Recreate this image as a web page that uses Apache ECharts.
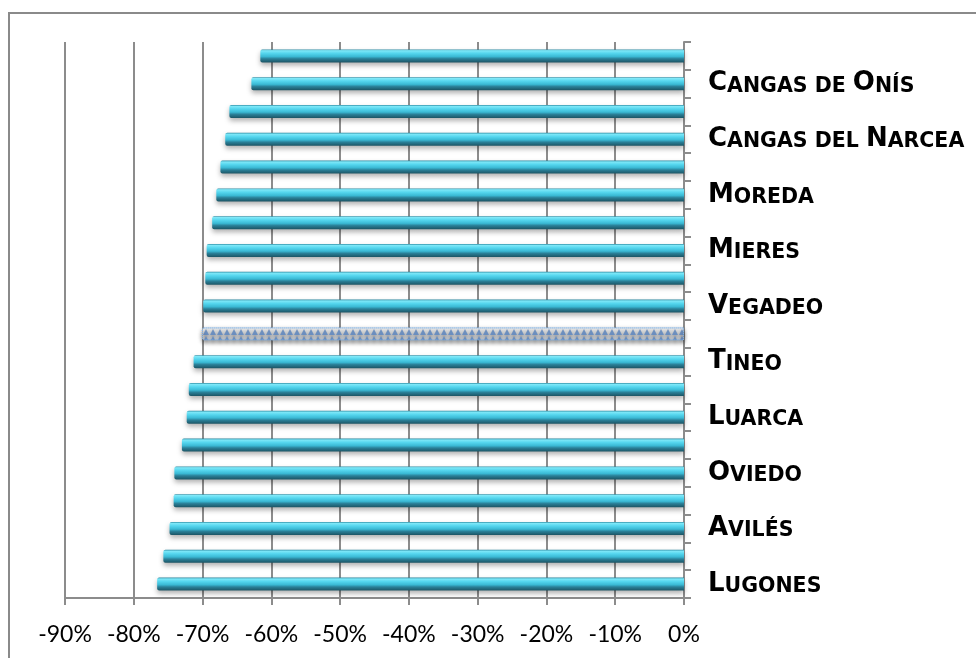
<!DOCTYPE html>
<html><head><meta charset="utf-8">
<script src="https://cdn.jsdelivr.net/npm/echarts@6/dist/echarts.min.js"></script>
<style>html,body{margin:0;padding:0;background:#fff}#c{width:976px;height:658px}</style>
</head><body><div id="c"></div>
<script>
// categories from bottom to top; unlabeled bars in the original have no visible name
const categories = ['Lugones','','Avilés','','Oviedo','','Luarca','','Tineo','','Vegadeo','','Mieres','','Moreda','','Cangas del Narcea','','Cangas de Onís',''];
const values = [-76.6,-75.7,-74.8,-74.2,-74.1,-73.0,-72.3,-72.0,-71.3,-70.1,-69.9,-69.6,-69.4,-68.6,-68.0,-67.4,-66.7,-66.1,-62.9,-61.6];
const highlightIndex = 9;
const xMin = -90, xMax = 0, xStep = 10;

const gridColor = '#8c8c8c';
const barGradient = new echarts.graphic.LinearGradient(0, 0, 0, 1, [
  {offset: 0, color: '#2a88a0'},
  {offset: 0.1, color: '#7fe8f8'},
  {offset: 0.3, color: '#55d6ee'},
  {offset: 0.55, color: '#3ab9d4'},
  {offset: 0.72, color: '#2a8098'},
  {offset: 1, color: '#1c5464'}
]);
const hiGradient = new echarts.graphic.LinearGradient(0, 0, 0, 1, [
  {offset: 0, color: '#ffffff'},
  {offset: 0.6, color: '#f6f9fd'},
  {offset: 1, color: '#e2e9f3'}
]);

function smallCaps(name) {
  if (!name) return '';
  let out = '', cur = '', curType = null;
  for (const ch of name) {
    const t = (ch !== ' ' && ch === ch.toUpperCase() && ch !== ch.toLowerCase()) ? 'b' : 's';
    if (t !== curType && cur) { out += '{' + curType + '|' + cur + '}'; cur = ''; }
    curType = t;
    cur += ch.toUpperCase();
  }
  if (cur) out += '{' + curType + '|' + cur + '}';
  return out;
}

const chart = echarts.init(document.getElementById('c'), null, {renderer: 'canvas'});
chart.setOption({
  animation: false,
  backgroundColor: '#ffffff',
  graphic: [{
    type: 'rect', z: -10, silent: true,
    shape: {x: 9, y: 13, width: 1000, height: 700},
    style: {fill: 'none', stroke: '#8a8a8a', lineWidth: 2}
  }],
  grid: {left: 65, right: 292, top: 42, bottom: 60, containLabel: false},
  xAxis: {
    type: 'value', min: xMin, max: xMax, interval: xStep,
    axisLine: {show: true, lineStyle: {color: gridColor, width: 2}},
    axisTick: {show: true, length: 7, lineStyle: {color: gridColor, width: 2}},
    splitLine: {show: true, lineStyle: {color: gridColor, width: 2}},
    axisLabel: {
      margin: 25, color: '#000', fontFamily: 'Lato', fontSize: 23,
      formatter: v => v + '%'
    }
  },
  yAxis: {
    type: 'category', position: 'right', data: categories,
    axisLine: {show: true, onZero: false, lineStyle: {color: gridColor, width: 2}},
    axisTick: {show: true, length: 7, interval: 0, lineStyle: {color: gridColor, width: 2}},
    splitLine: {show: false},
    axisLabel: {
      interval: 0, margin: 24, color: '#000',
      formatter: v => smallCaps(v),
      rich: {
        b: {fontFamily: 'DejaVu Sans', fontWeight: 'bold', fontSize: 26, lineHeight: 26, verticalAlign: 'bottom', color: '#000'},
        s: {fontFamily: 'DejaVu Sans', fontWeight: 'bold', fontSize: 20.5, lineHeight: 23, verticalAlign: 'bottom', color: '#000'}
      }
    }
  },
  series: [{
    type: 'bar',
    barWidth: 13,
    data: values.map((v, i) => i === highlightIndex ? {
      value: v,
      itemStyle: {
        color: hiGradient,
        borderColor: '#8cbcf0', borderWidth: 1, borderType: 'dotted',
        shadowColor: 'rgba(0,0,0,0.2)', shadowBlur: 4, shadowOffsetY: 2,
        decal: {symbol: 'triangle', symbolSize: 1, color: 'rgba(80,130,200,0.7)', dashArrayX: [6, 1], dashArrayY: [6, 1], rotation: 0}
      }
    } : v),
    itemStyle: {
      color: barGradient,
      borderRadius: [2, 0, 0, 2],
      shadowColor: 'rgba(0,0,0,0.3)', shadowBlur: 5, shadowOffsetY: 3
    }
  }]
});
</script></body></html>
